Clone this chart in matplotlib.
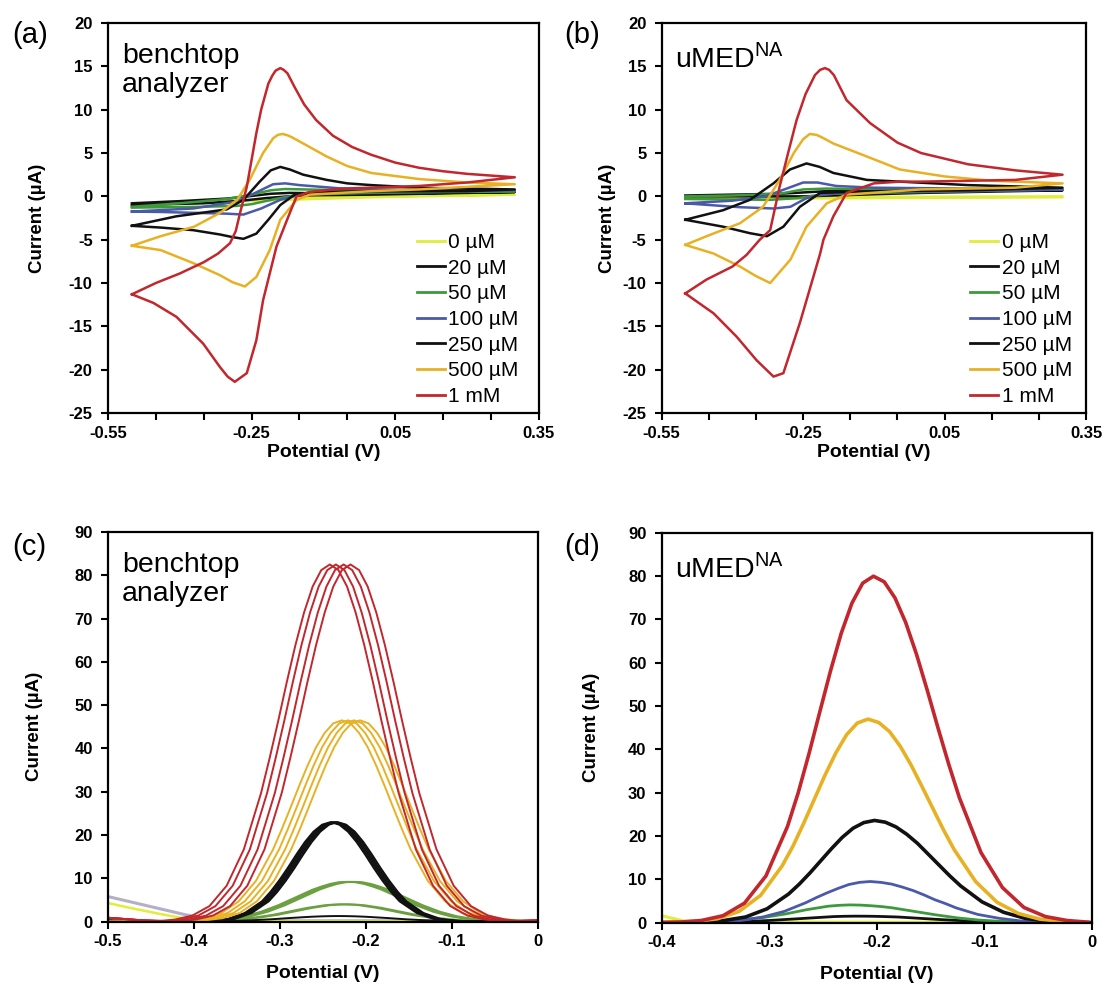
import numpy as np
import matplotlib.pyplot as plt
from matplotlib.lines import Line2D

plt.rcParams['font.family'] = ['Liberation Sans', 'DejaVu Sans']
plt.rcParams['mathtext.fontset'] = 'custom'
plt.rcParams['mathtext.rm'] = 'Liberation Sans'
plt.rcParams['axes.unicode_minus'] = False

# kolory serii
RED = '#c1272d'
GOLD = '#e8b124'
GREEN = '#3c9a3c'
BLUE = '#4a5aa8'
LIME = '#e2ec3a'
BLACK = '#111111'
LAVENDER = '#b4aec6'
OLIVE = '#6aa040'

legend_labels = ['0 µM', '20 µM', '50 µM', '100 µM', '250 µM', '500 µM', '1 mM']
legend_colors = [LIME, BLACK, GREEN, BLUE, BLACK, GOLD, RED]

# ---- (a) CV, benchtop analyzer: scan -0.5 -> 0.3 -> -0.5 V ----
cv_a_red_v = [-0.50, -0.45, -0.40, -0.35, -0.32, -0.295, -0.283, -0.274, -0.26, -0.25, -0.24,
              -0.23, -0.215, -0.207, -0.20, -0.19, -0.183, -0.175, -0.16, -0.14, -0.115,
              -0.08, -0.04, 0.00, 0.05, 0.10, 0.15, 0.20, 0.25, 0.30,
              0.25, 0.20, 0.10, 0.00, -0.06, -0.13, -0.156, -0.17, -0.198, -0.226,
              -0.24, -0.26, -0.285, -0.30, -0.316, -0.351, -0.407, -0.455, -0.50]
cv_a_red_i = [-11.3, -10.0, -8.9, -7.6, -6.6, -5.4, -4.0, -1.9, 1.1, 4.2, 7.3,
              10.0, 13.0, 13.9, 14.5, 14.8, 14.6, 14.2, 12.6, 10.6, 8.8,
              7.0, 5.7, 4.8, 3.9, 3.3, 2.9, 2.6, 2.4, 2.2,
              1.9, 1.6, 1.2, 1.0, 0.9, 0.5, 0.0, -1.9, -5.8, -12.0,
              -16.6, -20.4, -21.4, -20.8, -19.7, -17.0, -13.9, -12.3, -11.3]

cv_a_gold_v = [-0.50, -0.44, -0.37, -0.316, -0.28, -0.254, -0.226, -0.205, -0.195, -0.185,
               -0.175, -0.165, -0.142, -0.093, -0.05, 0.0, 0.1, 0.2, 0.3,
               0.2, 0.1, 0.0, -0.128, -0.156, -0.19, -0.212, -0.24, -0.264, -0.29,
               -0.316, -0.372, -0.44, -0.50]
cv_a_gold_i = [-5.7, -4.6, -3.5, -1.9, -0.4, 1.9, 5.0, 6.7, 7.1, 7.2,
               7.05, 6.8, 6.1, 4.6, 3.5, 2.7, 2.0, 1.6, 1.4,
               1.1, 0.8, 0.6, 0.2, -0.4, -2.7, -6.2, -9.3, -10.4, -9.9,
               -9.1, -7.7, -6.2, -5.7]

cv_a_k250_v = [-0.50, -0.407, -0.302, -0.267, -0.233, -0.21, -0.19, -0.17, -0.142, -0.093,
               -0.05, 0.0, 0.1, 0.2, 0.3,
               0.2, 0.0, -0.1, -0.16, -0.19, -0.215, -0.24, -0.267, -0.29, -0.316,
               -0.372, -0.44, -0.50]
cv_a_k250_i = [-3.4, -2.3, -1.5, -0.4, 1.7, 3.0, 3.4, 3.1, 2.5, 1.9,
               1.5, 1.3, 1.0, 0.9, 0.8,
               0.6, 0.6, 0.5, 0.2, -1.0, -2.7, -4.3, -4.9, -4.7, -4.4,
               -3.9, -3.6, -3.4]

cv_a_blue_v = [-0.50, -0.372, -0.281, -0.25, -0.205, -0.18, -0.15, -0.06, 0.0, 0.3,
               0.0, -0.1, -0.15, -0.19, -0.23, -0.267, -0.30, -0.37, -0.44, -0.50]
cv_a_blue_i = [-1.75, -1.4, -0.6, 0.2, 1.4, 1.5, 1.3, 0.9, 0.8, 0.7,
               0.5, 0.4, 0.2, -0.4, -1.4, -2.1, -2.0, -1.9, -1.8, -1.75]

cv_a_green_v = [-0.50, -0.40, -0.30, -0.25, -0.21, -0.18, -0.14, -0.05, 0.3,
                0.0, -0.15, -0.20, -0.25, -0.28, -0.35, -0.50]
cv_a_green_i = [-1.2, -0.8, -0.3, 0.2, 0.7, 0.85, 0.8, 0.7, 0.6,
                0.4, 0.2, -0.3, -0.9, -1.1, -1.2, -1.3]

cv_a_k20_v = [-0.50, -0.40, -0.30, -0.25, -0.21, -0.17, -0.10, 0.0, 0.3,
              0.0, -0.15, -0.22, -0.27, -0.35, -0.50]
cv_a_k20_i = [-0.8, -0.55, -0.25, 0.05, 0.3, 0.4, 0.35, 0.3, 0.5,
              0.2, 0.1, -0.2, -0.5, -0.8, -1.0]

cv_a_lime_v = [-0.50, -0.30, 0.0, 0.3, 0.0, -0.30, -0.50]
cv_a_lime_i = [-1.0, -0.5, 0.0, 0.2, -0.1, -0.6, -1.1]

# ---- (b) CV, uMED ----
cv_b_red_v = [-0.50, -0.455, -0.40, -0.37, -0.342, -0.32, -0.30, -0.282, -0.264, -0.245,
              -0.225, -0.214, -0.204, -0.195, -0.185, -0.158, -0.108, -0.05, 0.0, 0.1, 0.2, 0.3,
              0.2, 0.1, 0.0, -0.045, -0.10, -0.158, -0.186, -0.207, -0.214, -0.243,
              -0.257, -0.292, -0.313, -0.349, -0.391, -0.44, -0.50]
cv_b_red_i = [-11.2, -9.6, -8.1, -6.75, -5.0, -3.9, 1.1, 5.0, 8.8, 11.8,
              14.0, 14.6, 14.8, 14.6, 14.0, 11.1, 8.45, 6.2, 5.0, 3.7, 3.0, 2.5,
              1.9, 1.8, 1.7, 1.7, 1.5, 0.4, -2.3, -5.0, -6.6, -12.0,
              -14.6, -20.4, -20.8, -18.9, -16.2, -13.5, -11.2]

cv_b_gold_v = [-0.50, -0.455, -0.384, -0.335, -0.30, -0.27, -0.25, -0.236, -0.222, -0.21, -0.186,
               -0.115, -0.045, 0.05, 0.15, 0.3,
               0.2, 0.0, -0.158, -0.20, -0.243, -0.277, -0.32, -0.35, -0.384, -0.44, -0.50]
cv_b_gold_i = [-5.6, -4.6, -3.1, -1.2, 1.9, 5.0, 6.6, 7.2, 7.1, 6.8, 6.1,
               4.6, 3.1, 2.3, 1.8, 1.5,
               1.0, 0.8, 0.2, -0.8, -3.5, -7.3, -10.0, -9.2, -8.1, -6.6, -5.6]

cv_b_k250_v = [-0.50, -0.42, -0.363, -0.313, -0.278, -0.243, -0.215, -0.186, -0.115, -0.045,
               0.1, 0.3,
               0.1, -0.1, -0.214, -0.257, -0.292, -0.327, -0.363, -0.42, -0.50]
cv_b_k250_i = [-2.7, -1.6, -0.4, 1.5, 3.1, 3.8, 3.4, 2.7, 1.9, 1.7,
               1.3, 1.0,
               0.7, 0.6, 0.4, -1.2, -3.5, -4.6, -4.25, -3.5, -2.7]

cv_b_blue_v = [-0.50, -0.40, -0.33, -0.29, -0.25, -0.22, -0.18, -0.10, 0.10, 0.30,
               0.10, -0.15, -0.22, -0.243, -0.277, -0.313, -0.384, -0.50]
cv_b_blue_i = [-0.8, -0.5, 0.0, 0.8, 1.6, 1.6, 1.2, 1.0, 0.9, 0.8,
               0.6, 0.5, 0.1, -0.2, -1.2, -1.4, -1.25, -0.8]

cv_b_green_v = [-0.50, -0.40, -0.30, -0.25, -0.20, -0.10, 0.30, 0.10, -0.20, -0.26, -0.32, -0.50]
cv_b_green_i = [0.0, 0.1, 0.3, 0.8, 0.9, 0.8, 0.8, 0.6, 0.3, -0.2, -0.4, -0.3]

cv_b_k20_v = [-0.50, -0.30, -0.20, 0.0, 0.3, 0.0, -0.25, -0.50]
cv_b_k20_i = [0.1, 0.3, 0.6, 0.6, 0.7, 0.4, 0.0, 0.0]

cv_b_lime_v = [-0.50, -0.30, 0.30, 0.30, -0.50]
cv_b_lime_i = [-0.2, -0.1, 0.0, -0.1, -0.3]

# ---- DPV: prady odczytane wzgledem polozenia piku (V) ----
dpv_off = [-0.20, -0.18, -0.16, -0.14, -0.12, -0.10, -0.08, -0.07, -0.06, -0.05,
           -0.04, -0.03, -0.02, -0.01, 0.00, 0.01, 0.02, 0.03, 0.04, 0.05,
           0.06, 0.07, 0.08, 0.10, 0.12, 0.14, 0.16, 0.18, 0.20]

# (c) benchtop - kilka powtorzen na stezenie
c_red_i = [0.1, 0.5, 1.4, 3.6, 8.3, 16.7, 29.7, 37.8, 46.4, 55.4,
           63.9, 71.4, 77.4, 81.2, 82.5, 81.2, 77.4, 71.4, 63.9, 55.4,
           46.4, 37.8, 29.7, 16.7, 8.3, 3.6, 1.4, 0.5, 0.1]
c_red_peaks = [-0.242, -0.235, -0.226, -0.218]
c_gold_i = [0.1, 0.3, 0.8, 2.0, 4.7, 9.4, 16.7, 21.3, 26.2, 31.2,
            36.0, 40.3, 43.6, 45.8, 46.5, 45.8, 43.6, 40.3, 36.0, 31.2,
            26.2, 21.3, 16.7, 9.4, 4.7, 2.0, 0.8, 0.3, 0.1]
c_gold_peaks = [-0.228, -0.221, -0.214, -0.207]
c_k250_i = [0.0, 0.0, 0.04, 0.2, 0.6, 2.0, 4.7, 6.9, 9.5, 12.4,
            15.5, 18.4, 20.8, 22.4, 23.0, 22.4, 20.8, 18.4, 15.5, 12.4,
            9.5, 6.9, 4.7, 2.0, 0.6, 0.2, 0.04, 0.0, 0.0]
c_k250_peaks = [-0.241, -0.239, -0.237, -0.235, -0.233]
c_100_i = [0.04, 0.1, 0.27, 0.6, 1.24, 2.3, 3.8, 4.7, 5.6, 6.5,
           7.4, 8.1, 8.7, 9.1, 9.2, 9.1, 8.7, 8.1, 7.4, 6.5,
           5.6, 4.7, 3.8, 2.3, 1.24, 0.6, 0.27, 0.1, 0.04]
c_100_peaks = [-0.222, -0.218, -0.214]
c_50_i = [0.02, 0.05, 0.12, 0.26, 0.54, 1.0, 1.6, 2.0, 2.4, 2.8,
          3.2, 3.5, 3.8, 3.95, 4.0, 3.95, 3.8, 3.5, 3.2, 2.8,
          2.4, 2.0, 1.6, 1.0, 0.54, 0.26, 0.12, 0.05, 0.02]
c_50_peaks = [-0.228, -0.222]
c_20_i = [0.0, 0.01, 0.04, 0.09, 0.18, 0.33, 0.53, 0.66, 0.8, 0.92,
          1.04, 1.15, 1.23, 1.28, 1.3, 1.28, 1.23, 1.15, 1.04, 0.92,
          0.8, 0.66, 0.53, 0.33, 0.18, 0.09, 0.04, 0.01, 0.0]
c_20_peak = -0.232
c_lav_v = [-0.50, -0.47, -0.44, -0.41, -0.38, -0.30, 0.0]
c_lav_i = [5.8, 4.4, 3.0, 1.6, 0.5, 0.2, 0.2]
c_lime_v = [-0.50, -0.47, -0.44, -0.41, -0.39, -0.30, 0.0]
c_lime_i = [4.3, 3.0, 1.8, 0.7, 0.2, 0.1, 0.1]
c_redtail_v = [-0.50, -0.46]
c_redtail_i = [0.9, 0.3]

# (d) uMED - jedna krzywa na stezenie
d_red_i = [0.02, 0.12, 0.5, 1.6, 4.5, 10.8, 22.2, 30.0, 39.0, 48.6,
           58.1, 66.8, 73.8, 78.4, 80.0, 78.7, 75.0, 69.3, 62.0, 53.7,
           45.0, 36.6, 28.8, 16.2, 8.1, 3.5, 1.4, 0.5, 0.1]
d_gold_i = [0.01, 0.07, 0.3, 0.9, 2.6, 6.3, 13.1, 17.6, 22.9, 28.5,
            34.1, 39.2, 43.4, 46.1, 47.0, 46.2, 44.1, 40.7, 36.4, 31.5,
            26.5, 21.5, 16.9, 9.5, 4.7, 2.1, 0.8, 0.3, 0.1]
d_k250_i = [0.0, 0.04, 0.14, 0.5, 1.3, 3.2, 6.6, 8.9, 11.5, 14.3,
            17.1, 19.7, 21.8, 23.1, 23.6, 23.2, 22.1, 20.4, 18.3, 15.8,
            13.3, 10.8, 8.5, 4.8, 2.4, 1.0, 0.4, 0.1, 0.0]
d_blue_i = [0.0, 0.0, 0.06, 0.2, 0.5, 1.3, 2.6, 3.6, 4.6, 5.8,
            6.9, 7.9, 8.8, 9.3, 9.5, 9.3, 8.9, 8.2, 7.4, 6.4,
            5.3, 4.4, 3.4, 1.9, 1.0, 0.4, 0.2, 0.0, 0.0]
d_green_i = [0.0, 0.05, 0.1, 0.2, 0.35, 0.7, 1.2, 1.6, 2.0, 2.5,
             3.0, 3.4, 3.8, 4.0, 4.1, 4.05, 3.9, 3.7, 3.4, 3.0,
             2.6, 2.2, 1.8, 1.1, 0.6, 0.3, 0.1, 0.05, 0.0]
d_k20_i = [0.0, 0.0, 0.05, 0.1, 0.15, 0.3, 0.5, 0.65, 0.8, 0.95,
           1.1, 1.25, 1.4, 1.47, 1.5, 1.49, 1.45, 1.38, 1.3, 1.15,
           1.0, 0.85, 0.7, 0.45, 0.25, 0.1, 0.05, 0.0, 0.0]
d_peak_red = -0.203
d_peak_gold = -0.208
d_peak_k250 = -0.202
d_peak_blue = -0.206
d_peak_green = -0.225
d_peak_k20 = -0.22
d_lime_v = [-0.40, -0.39, -0.38, -0.36, -0.20, 0.0]
d_lime_i = [1.6, 1.0, 0.4, 0.15, 0.1, 0.05]


def bold_ticks(ax, size=12):
    for lab in ax.get_xticklabels() + ax.get_yticklabels():
        lab.set_fontweight('bold')
        lab.set_fontsize(size)


def frame(ax):
    for s in ax.spines.values():
        s.set_linewidth(1.6)
    ax.tick_params(which='both', direction='out', length=5, width=1.5, pad=6)
    ax.tick_params(axis='x', pad=4)


fig = plt.figure(figsize=(11.11, 9.85), dpi=100)
ax_a = fig.add_axes([0.0972, 0.5807, 0.3877, 0.3959])
ax_b = fig.add_axes([0.5956, 0.5807, 0.3820, 0.3959])
ax_c = fig.add_axes([0.0972, 0.0643, 0.3870, 0.3956])
ax_d = fig.add_axes([0.5956, 0.0633, 0.3870, 0.3957])

# --- CV panele ---
cv_sets = [
    (ax_a, [(cv_a_lime_v, cv_a_lime_i, LIME), (cv_a_k20_v, cv_a_k20_i, BLACK),
            (cv_a_green_v, cv_a_green_i, GREEN), (cv_a_blue_v, cv_a_blue_i, BLUE),
            (cv_a_k250_v, cv_a_k250_i, BLACK), (cv_a_gold_v, cv_a_gold_i, GOLD),
            (cv_a_red_v, cv_a_red_i, RED)]),
    (ax_b, [(cv_b_lime_v, cv_b_lime_i, LIME), (cv_b_k20_v, cv_b_k20_i, BLACK),
            (cv_b_green_v, cv_b_green_i, GREEN), (cv_b_blue_v, cv_b_blue_i, BLUE),
            (cv_b_k250_v, cv_b_k250_i, BLACK), (cv_b_gold_v, cv_b_gold_i, GOLD),
            (cv_b_red_v, cv_b_red_i, RED)]),
]
for ax, curves in cv_sets:
    for v, i, col in curves:
        ax.plot(v, i, color=col, lw=1.8, solid_joinstyle='round')
    ax.set_xlim(-0.55, 0.35)
    ax.set_ylim(-25, 20)
    ax.set_xticks([-0.55, -0.25, 0.05, 0.35])
    ax.set_xticklabels(['-0.55', '-0.25', '0.05', '0.35'])
    ax.set_xticks([-0.45, -0.35, -0.15, -0.05, 0.15, 0.25], minor=True)
    ax.set_yticks(np.arange(-25, 21, 5))
    frame(ax)
    bold_ticks(ax)
    ax.set_xlabel('Potential (V)', fontweight='bold', fontsize=14)
    ax.set_ylabel('Current (µA)', fontweight='bold', fontsize=13.5)
    ax.xaxis.set_label_coords(0.5, -0.079)
    handles = [Line2D([], [], color=c, lw=2) for c in legend_colors]
    ax.legend(handles, legend_labels, loc='upper left', frameon=False, fontsize=15,
              handlelength=1.35, handletextpad=0.15, labelspacing=0.32,
              borderpad=0, borderaxespad=0,
              bbox_to_anchor=(0.717 if ax is ax_a else 0.727, 0.462))

ax_a.yaxis.set_label_coords(-0.145, 0.5)
ax_b.yaxis.set_label_coords(-0.108, 0.5)

ax_a.text(0.032, 0.948, 'benchtop\nanalyzer', transform=ax_a.transAxes, fontsize=20.5,
          va='top', ha='left', linespacing=1.12)
ax_b.text(0.031, 0.948, r'uMED$^{\mathrm{NA}}$', transform=ax_b.transAxes, fontsize=20.5,
          va='top', ha='left')

# --- (c) DPV benchtop ---
off = np.array(dpv_off)
ax_c.plot(c_lav_v, c_lav_i, color=LAVENDER, lw=2.2)
ax_c.plot(c_lime_v, c_lime_i, color=LIME, lw=1.8)
for p in c_50_peaks:
    ax_c.plot(np.r_[-0.5, off + p, 0.0], np.r_[0.0, c_50_i, 0.0], color=OLIVE, lw=1.4)
for p in c_100_peaks:
    ax_c.plot(np.r_[-0.5, off + p, 0.0], np.r_[0.0, c_100_i, 0.0], color=OLIVE, lw=1.4)
ax_c.plot(np.r_[-0.5, off + c_20_peak, 0.0], np.r_[0.3, c_20_i, 0.0], color=BLACK, lw=1.4)
for p in c_k250_peaks:
    ax_c.plot(np.r_[-0.5, off + p, 0.0], np.r_[0.2, c_k250_i, 0.0], color=BLACK, lw=1.4)
for p in c_gold_peaks:
    ax_c.plot(np.r_[-0.5, off + p, 0.0], np.r_[0.0, c_gold_i, 0.0], color=GOLD, lw=1.4)
for p in c_red_peaks:
    ax_c.plot(np.r_[c_redtail_v, off + p, 0.0], np.r_[c_redtail_i, c_red_i, 0.3], color=RED, lw=1.4)
ax_c.set_xlim(-0.5, 0.0)
ax_c.set_ylim(0, 90)
ax_c.set_xticks([-0.5, -0.4, -0.3, -0.2, -0.1, 0.0])
ax_c.set_xticklabels(['-0.5', '-0.4', '-0.3', '-0.2', '-0.1', '0'])
ax_c.set_yticks(np.arange(0, 91, 10))

# --- (d) DPV uMED ---
ax_d.plot(d_lime_v, d_lime_i, color=LIME, lw=2.2)
ax_d.plot(off + d_peak_k20, d_k20_i, color=BLACK, lw=2.0)
ax_d.plot(off + d_peak_green, d_green_i, color=GREEN, lw=2.0)
ax_d.plot(off + d_peak_blue, d_blue_i, color=BLUE, lw=2.0)
ax_d.plot(off + d_peak_k250, d_k250_i, color=BLACK, lw=2.6)
ax_d.plot(off + d_peak_gold, d_gold_i, color=GOLD, lw=2.6)
ax_d.plot(off + d_peak_red, d_red_i, color=RED, lw=2.6)
ax_d.set_xlim(-0.4, 0.0)
ax_d.set_ylim(0, 90)
ax_d.set_xticks([-0.4, -0.3, -0.2, -0.1, 0.0])
ax_d.set_xticklabels(['-0.4', '-0.3', '-0.2', '-0.1', '0'])
ax_d.set_yticks(np.arange(0, 91, 10))

for ax in (ax_c, ax_d):
    frame(ax)
    bold_ticks(ax)
    ax.set_xlabel('Potential (V)', fontweight='bold', fontsize=14)
    ax.set_ylabel('Current (µA)', fontweight='bold', fontsize=13.5)
    ax.xaxis.set_label_coords(0.5, -0.112)
ax_c.yaxis.set_label_coords(-0.15, 0.5)
ax_d.yaxis.set_label_coords(-0.143, 0.5)

ax_c.text(0.032, 0.948, 'benchtop\nanalyzer', transform=ax_c.transAxes, fontsize=20.5,
          va='top', ha='left', linespacing=1.12)
ax_d.text(0.031, 0.948, r'uMED$^{\mathrm{NA}}$', transform=ax_d.transAxes, fontsize=20.5,
          va='top', ha='left')

# etykiety paneli
fig.text(0.011, 1 - 35 / 985, '(a)', fontsize=21, va='center')
fig.text(0.508, 1 - 35 / 985, '(b)', fontsize=21, va='center')
fig.text(0.011, 1 - 547 / 985, '(c)', fontsize=21, va='center')
fig.text(0.508, 1 - 547 / 985, '(d)', fontsize=21, va='center')

fig.savefig('out.png', dpi=100, facecolor='white')
